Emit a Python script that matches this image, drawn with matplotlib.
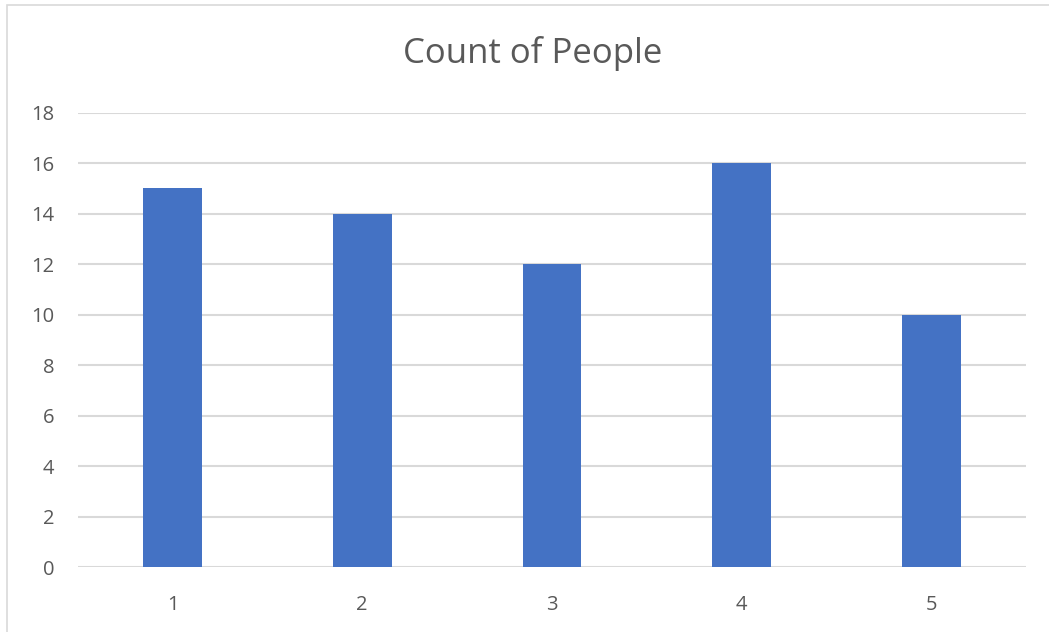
import matplotlib
matplotlib.use("Agg")
import matplotlib.pyplot as plt
from matplotlib.patches import Rectangle

# data
categories = ["1", "2", "3", "4", "5"]
counts = [15, 14, 12, 16, 10]
y_ticks = [0, 2, 4, 6, 8, 10, 12, 14, 16, 18]

plt.rcParams['font.family'] = ['Open Sans', 'DejaVu Sans']

fig = plt.figure(figsize=(10.49, 6.32), dpi=100)
ax = fig.add_axes([0.074, 0.1024, 0.9044, 0.7193])

x = list(range(len(categories)))
ax.bar(x, counts, width=0.31, color='#4472C4', zorder=3)

ax.set_xlim(-0.5, len(categories) - 0.5)
ax.set_ylim(0, 18)
ax.set_yticks(y_ticks)
ax.set_xticks(x)
ax.set_xticklabels(categories)
ax.grid(axis='y', color='#d9d9d9', linewidth=1.5, zorder=0)
ax.tick_params(axis='both', length=0, labelsize=14.5, labelcolor='#595959')
ax.tick_params(axis='y', pad=17)
ax.tick_params(axis='x', pad=20)
for s in ax.spines.values():
    s.set_visible(False)

fig.text(0.508, 0.916, "Count of People", ha='center', va='center',
         fontsize=25, color='#595959')

# chart border (cropped screenshot: only left and top visible)
fig.patches.append(Rectangle((7 / 1049, -0.1), 1.2, 1.1 - 5 / 632,
                             transform=fig.transFigure, fill=False,
                             edgecolor='#d9d9d9', linewidth=1.2))

fig.savefig("out.png", dpi=100)
